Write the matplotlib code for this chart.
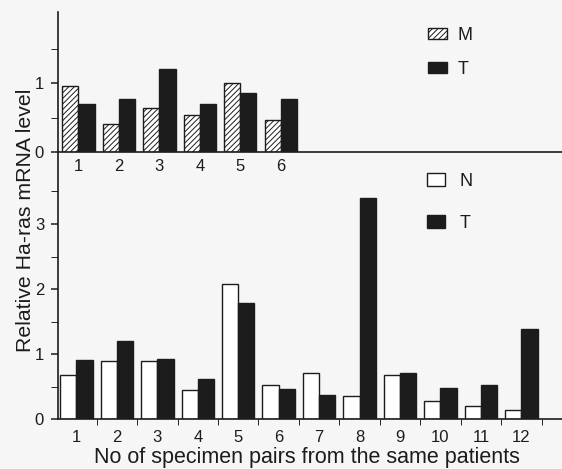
import matplotlib
matplotlib.use("Agg")
import matplotlib.pyplot as plt
from matplotlib.patches import Patch

plt.rcParams['font.family'] = ['Liberation Sans', 'DejaVu Sans']
plt.rcParams['hatch.linewidth'] = 0.7

# top panel: M vs T
top_pairs = [1, 2, 3, 4, 5, 6]
top_m = [0.96, 0.40, 0.64, 0.54, 1.00, 0.46]
top_t = [0.70, 0.77, 1.21, 0.69, 0.85, 0.77]

# bottom panel: N vs T
bot_pairs = [1, 2, 3, 4, 5, 6, 7, 8, 9, 10, 11, 12]
bot_n = [0.67, 0.89, 0.90, 0.44, 2.08, 0.53, 0.71, 0.35, 0.67, 0.27, 0.20, 0.14]
bot_t = [0.91, 1.20, 0.93, 0.62, 1.78, 0.46, 0.37, 3.40, 0.71, 0.48, 0.52, 1.38]

ink = '#1c1c1c'
bg = '#f6f6f6'
W, H = 562, 469

fig = plt.figure(figsize=(W / 100, H / 100), dpi=100, facecolor=bg)

x0 = 58
left = x0 / W
xlim = (0.5 + (x0 - 56.2) / 40.45, 0.5 + (W - 56.2) / 40.45)
ax_b = fig.add_axes([left, (H - 419) / H, (W - x0) / W, (419 - 152) / H])
ax_t = fig.add_axes([left, (H - 152) / H, (W - x0) / W, (152 - 12) / H])

for ax in (ax_t, ax_b):
    ax.set_facecolor('none')
    for s in ('top', 'right'):
        ax.spines[s].set_visible(False)
    for s in ('left', 'bottom'):
        ax.spines[s].set_color(ink)
        ax.spines[s].set_linewidth(1.2)
    ax.tick_params(colors=ink, labelcolor=ink, labelsize=12, width=1.1)

ax_b.set_xlim(*xlim)
# the scan is a little skewed: the top pairs sit ~2 px further right
ax_t.set_xlim(xlim[0] - 0.05, xlim[1] - 0.05)

# top panel
bw = 0.4
ax_t.bar([p - bw / 2 for p in top_pairs], top_m, width=bw, facecolor='white',
         edgecolor=ink, hatch='//////', linewidth=1.0)
ax_t.bar([p + bw / 2 for p in top_pairs], top_t, width=bw, color=ink,
         edgecolor=ink, linewidth=1.0)
ax_t.set_ylim(0, 2.03)
ax_t.set_yticks([0, 1])
ax_t.set_yticks([0.5, 1.5], minor=True)
ax_t.tick_params(axis='y', which='both', direction='out', length=5, pad=5)
ax_t.set_xticks(top_pairs)
ax_t.set_xticklabels([str(p) for p in top_pairs])
ax_t.tick_params(axis='x', length=0, pad=5)

ax_t.legend(handles=[Patch(facecolor='white', edgecolor=ink, hatch='//////', label='M'),
                     Patch(facecolor=ink, edgecolor=ink, label='T')],
            loc='upper left', bbox_to_anchor=(428 / W, 1 - 27 / H),
            bbox_transform=fig.transFigure, frameon=False, fontsize=13,
            handlelength=1.05, handleheight=0.6, handletextpad=0.6,
            labelspacing=0.94, borderpad=0, borderaxespad=0, labelcolor=ink)

# bottom panel
bw2 = 0.4
ax_b.bar([p - bw2 / 2 for p in bot_pairs], bot_n, width=bw2, facecolor='white',
         edgecolor=ink, linewidth=1.0)
ax_b.bar([p + bw2 / 2 for p in bot_pairs], bot_t, width=bw2, color=ink,
         edgecolor=ink, linewidth=1.0)
ax_b.set_ylim(0, (419 - 152) / 65)
ax_b.set_yticks([0, 1, 2, 3])
ax_b.set_yticks([0.5, 1.5, 2.5, 3.5], minor=True)
ax_b.tick_params(axis='y', which='both', direction='out', length=5, pad=5)
ax_b.set_xticks(bot_pairs)
ax_b.set_xticklabels([str(p) for p in bot_pairs])
ax_b.set_xticks([p + 0.5 for p in bot_pairs], minor=True)
ax_b.tick_params(axis='x', which='major', length=0, pad=8)
ax_b.tick_params(axis='x', which='minor', direction='out', length=4)

ax_b.legend(handles=[Patch(facecolor='white', edgecolor=ink, label='N'),
                     Patch(facecolor=ink, edgecolor=ink, label='T')],
            loc='upper left', bbox_to_anchor=(427 / W, 1 - 173 / H),
            bbox_transform=fig.transFigure, frameon=False, fontsize=13,
            handlelength=1.0, handleheight=0.75, handletextpad=0.78,
            labelspacing=1.39, borderpad=0, borderaxespad=0, labelcolor=ink)

fig.text(25.5 / W, 1 - 220.5 / H, 'Relative Ha-ras mRNA level', rotation=90,
         ha='center', va='center', fontsize=15.3, color=ink)
fig.text(307 / W, 1 - 463 / H, 'No of specimen pairs from the same patients',
         ha='center', va='baseline', fontsize=15.5, color=ink)

fig.savefig('out.png', dpi=100, facecolor=bg)
